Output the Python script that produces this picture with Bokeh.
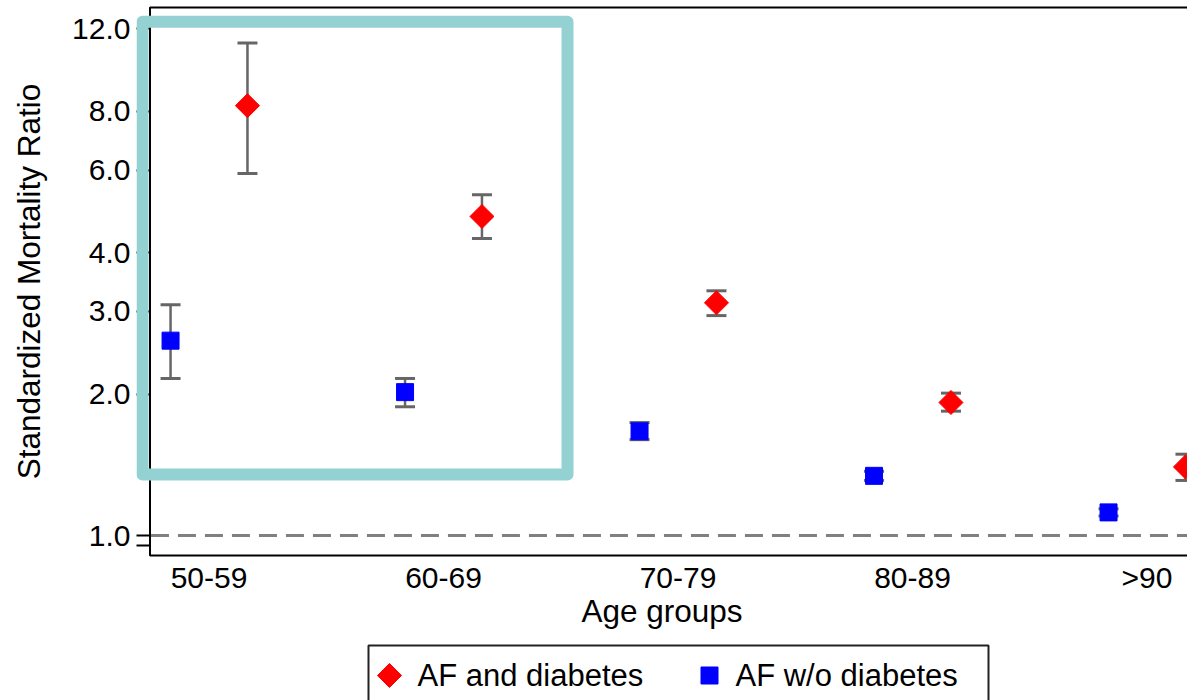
import numpy as np
from bokeh.plotting import figure
from bokeh.layouts import column
from bokeh.models import (ColumnDataSource, Range1d, FixedTicker, CustomJSTickFormatter,
                          BoxAnnotation)
from bokeh.core.properties import value
from bokeh.transform import dodge
from bokeh.embed import file_html
from bokeh.resources import INLINE

# ---------------- data ----------------
age_groups = ["50-59", "60-69", "70-79", "80-89", ">90"]
af_dm_smr = [8.23, 4.78, 3.13, 1.92, 1.40]
af_dm_lower = [5.90, 4.29, 2.94, 1.84, 1.31]
af_dm_upper = [11.19, 5.32, 3.32, 2.01, 1.49]
af_nodm_smr = [2.60, 2.02, 1.667, 1.34, 1.12]
af_nodm_lower = [2.16, 1.88, 1.60, 1.31, 1.10]
af_nodm_upper = [3.10, 2.16, 1.74, 1.37, 1.14]
y_ticks = [0.95, 1, 2, 3, 4, 6, 8, 12]
reference_smr = 1.0
series_names = ["AF and diabetes", "AF w/o diabetes"]

FONT = "Liberation Sans"
GRAY = "#666666"
TEAL = "#94d1d3"
RED = "#ff0000"
BLUE = "#0000ff"
series_colors = [RED, BLUE]
series_angles = [np.pi / 4, 0.0]   # red: diamond (rotated square), blue: square

idx = list(range(len(age_groups)))
src = ColumnDataSource(dict(
    idx=idx,
    dm=af_dm_smr, dm_lo=af_dm_lower, dm_hi=af_dm_upper,
    nodm=af_nodm_smr, nodm_lo=af_nodm_lower, nodm_hi=af_nodm_upper,
))

X_START, X_END = -0.3092, 4.1727
Y_START, Y_END = 0.8978, 13.45
AXIS_X = -0.2516                # position of the drawn y-axis line
FRAME_TOP, FRAME_BOT = 13.32, 0.9066

p = figure(width=1187, height=640, output_backend="svg", toolbar_location=None,
           y_axis_type="log",
           x_range=Range1d(X_START, X_END), y_range=Range1d(Y_START, Y_END),
           min_border_left=136, min_border_right=0, min_border_top=5,
           min_border_bottom=83)
p.outline_line_color = None
p.background_fill_color = "white"
p.border_fill_color = "white"
p.xgrid.visible = False
p.ygrid.visible = False

OFF = 0.164
xr = dodge("idx", OFF, range=p.x_range)
xb = dodge("idx", -OFF, range=p.x_range)

# frame lines (left axis line, top and bottom lines; right side runs off the page)
p.add_layout(BoxAnnotation(left=AXIS_X, right=X_END + 1, top=FRAME_TOP, bottom=FRAME_BOT,
                           fill_alpha=0, line_color="black", line_alpha=1, line_width=2))

# dashed reference line at SMR = 1, starting at the y axis
p.segment(x0=AXIS_X + 0.004, x1=X_END + 1, y0=reference_smr, y1=reference_smr,
          line_color="#808080", line_width=3, line_dash="18 9")

# error bars
for xx, lo, hi in [(xb, "nodm_lo", "nodm_hi"), (xr, "dm_lo", "dm_hi")]:
    p.segment(x0=xx, y0=lo, x1=xx, y1=hi, source=src, line_color=GRAY, line_width=2.5)
    p.scatter(x=xx, y=lo, source=src, marker="dash", size=20, line_color=GRAY, line_width=3)
    p.scatter(x=xx, y=hi, source=src, marker="dash", size=20, line_color=GRAY, line_width=3)

p.scatter(x=xb, y="nodm", source=src, marker="square", size=17, angle=series_angles[1],
          fill_color=BLUE, line_color=BLUE, line_width=1)
p.scatter(x=xr, y="dm", source=src, marker="square", size=17, angle=series_angles[0],
          fill_color=RED, line_color=RED, line_width=1)

# highlight box around the first two age groups
p.add_layout(BoxAnnotation(left=-0.2836, right=1.5288, top=12.42, bottom=1.348,
                           fill_alpha=0, line_color=TEAL, line_alpha=1, line_width=12,
                           line_join="round"))

# axes
xa = p.xaxis[0]
xa.ticker = FixedTicker(ticks=idx, minor_ticks=[])
xa.formatter = CustomJSTickFormatter(args=dict(labels=age_groups),
                                     code="return labels[Math.round(tick)] || '';")
xa.major_tick_out = 0
xa.major_tick_in = 0
xa.minor_tick_out = 0
xa.minor_tick_in = 0
xa.major_label_text_font = FONT
xa.major_label_text_font_size = "30px"
xa.major_label_text_color = "black"
xa.major_label_standoff = 3
xa.axis_label = "Age groups"
xa.axis_label_text_font = FONT
xa.axis_label_text_font_size = "31.5px"
xa.axis_label_text_font_style = "normal"
xa.axis_label_text_color = "black"
xa.axis_label_standoff = -4
xa.axis_line_color = None

ya = p.yaxis[0]
ya.ticker = FixedTicker(ticks=y_ticks, minor_ticks=[])
ya.formatter = CustomJSTickFormatter(code="return tick < 0.99 ? '' : tick.toFixed(1);")
ya.major_tick_out = 0
ya.major_tick_in = 13
ya.minor_tick_out = 0
ya.minor_tick_in = 0
ya.major_tick_line_width = 2
ya.major_tick_line_color = "black"
ya.major_label_text_font = FONT
ya.major_label_text_font_size = "30px"
ya.major_label_text_color = "black"
ya.major_label_standoff = 6
ya.axis_label = "Standardized Mortality Ratio"
ya.axis_label_text_font = FONT
ya.axis_label_text_font_size = "31.5px"
ya.axis_label_text_font_style = "normal"
ya.axis_label_text_color = "black"
ya.axis_label_standoff = 22
ya.axis_line_color = None

# ---------------- legend strip (pixel-unit ranges; lower edge runs off the page) ----------------
q = figure(width=1187, height=60, output_backend="svg", toolbar_location=None,
           x_axis_type=None, y_axis_type=None,
           x_range=Range1d(136, 1187), y_range=Range1d(60, 0),
           min_border_left=0, min_border_right=0, min_border_top=0, min_border_bottom=0)
q.outline_line_color = None
q.grid.visible = False
q.background_fill_color = "white"
q.border_fill_color = "white"

LEG_LEFT, LEG_RIGHT, LEG_TOP, LEG_BOTTOM = 368, 988, 5, 66
LEG_ROW = 35
leg_marker_x = [389, 709]
leg_text_x = [417, 735]

q.quad(left=LEG_LEFT, right=LEG_RIGHT, top=LEG_TOP, bottom=LEG_BOTTOM,
       fill_color="white", line_color="#222222", line_width=2)
leg_src = ColumnDataSource(dict(mx=leg_marker_x, tx=leg_text_x, y=[LEG_ROW] * 2,
                                label=series_names, color=series_colors,
                                angle=series_angles))
q.scatter(x="mx", y="y", source=leg_src, marker="square", size=17, angle="angle",
          fill_color="color", line_color="color", line_width=1)
q.text(x="tx", y="y", text="label", source=leg_src, text_font=value(FONT),
       text_font_size="31px", text_color="black", text_baseline="middle",
       text_align="left")

open("out.html", "w").write(file_html(column(p, q, spacing=0), INLINE))
